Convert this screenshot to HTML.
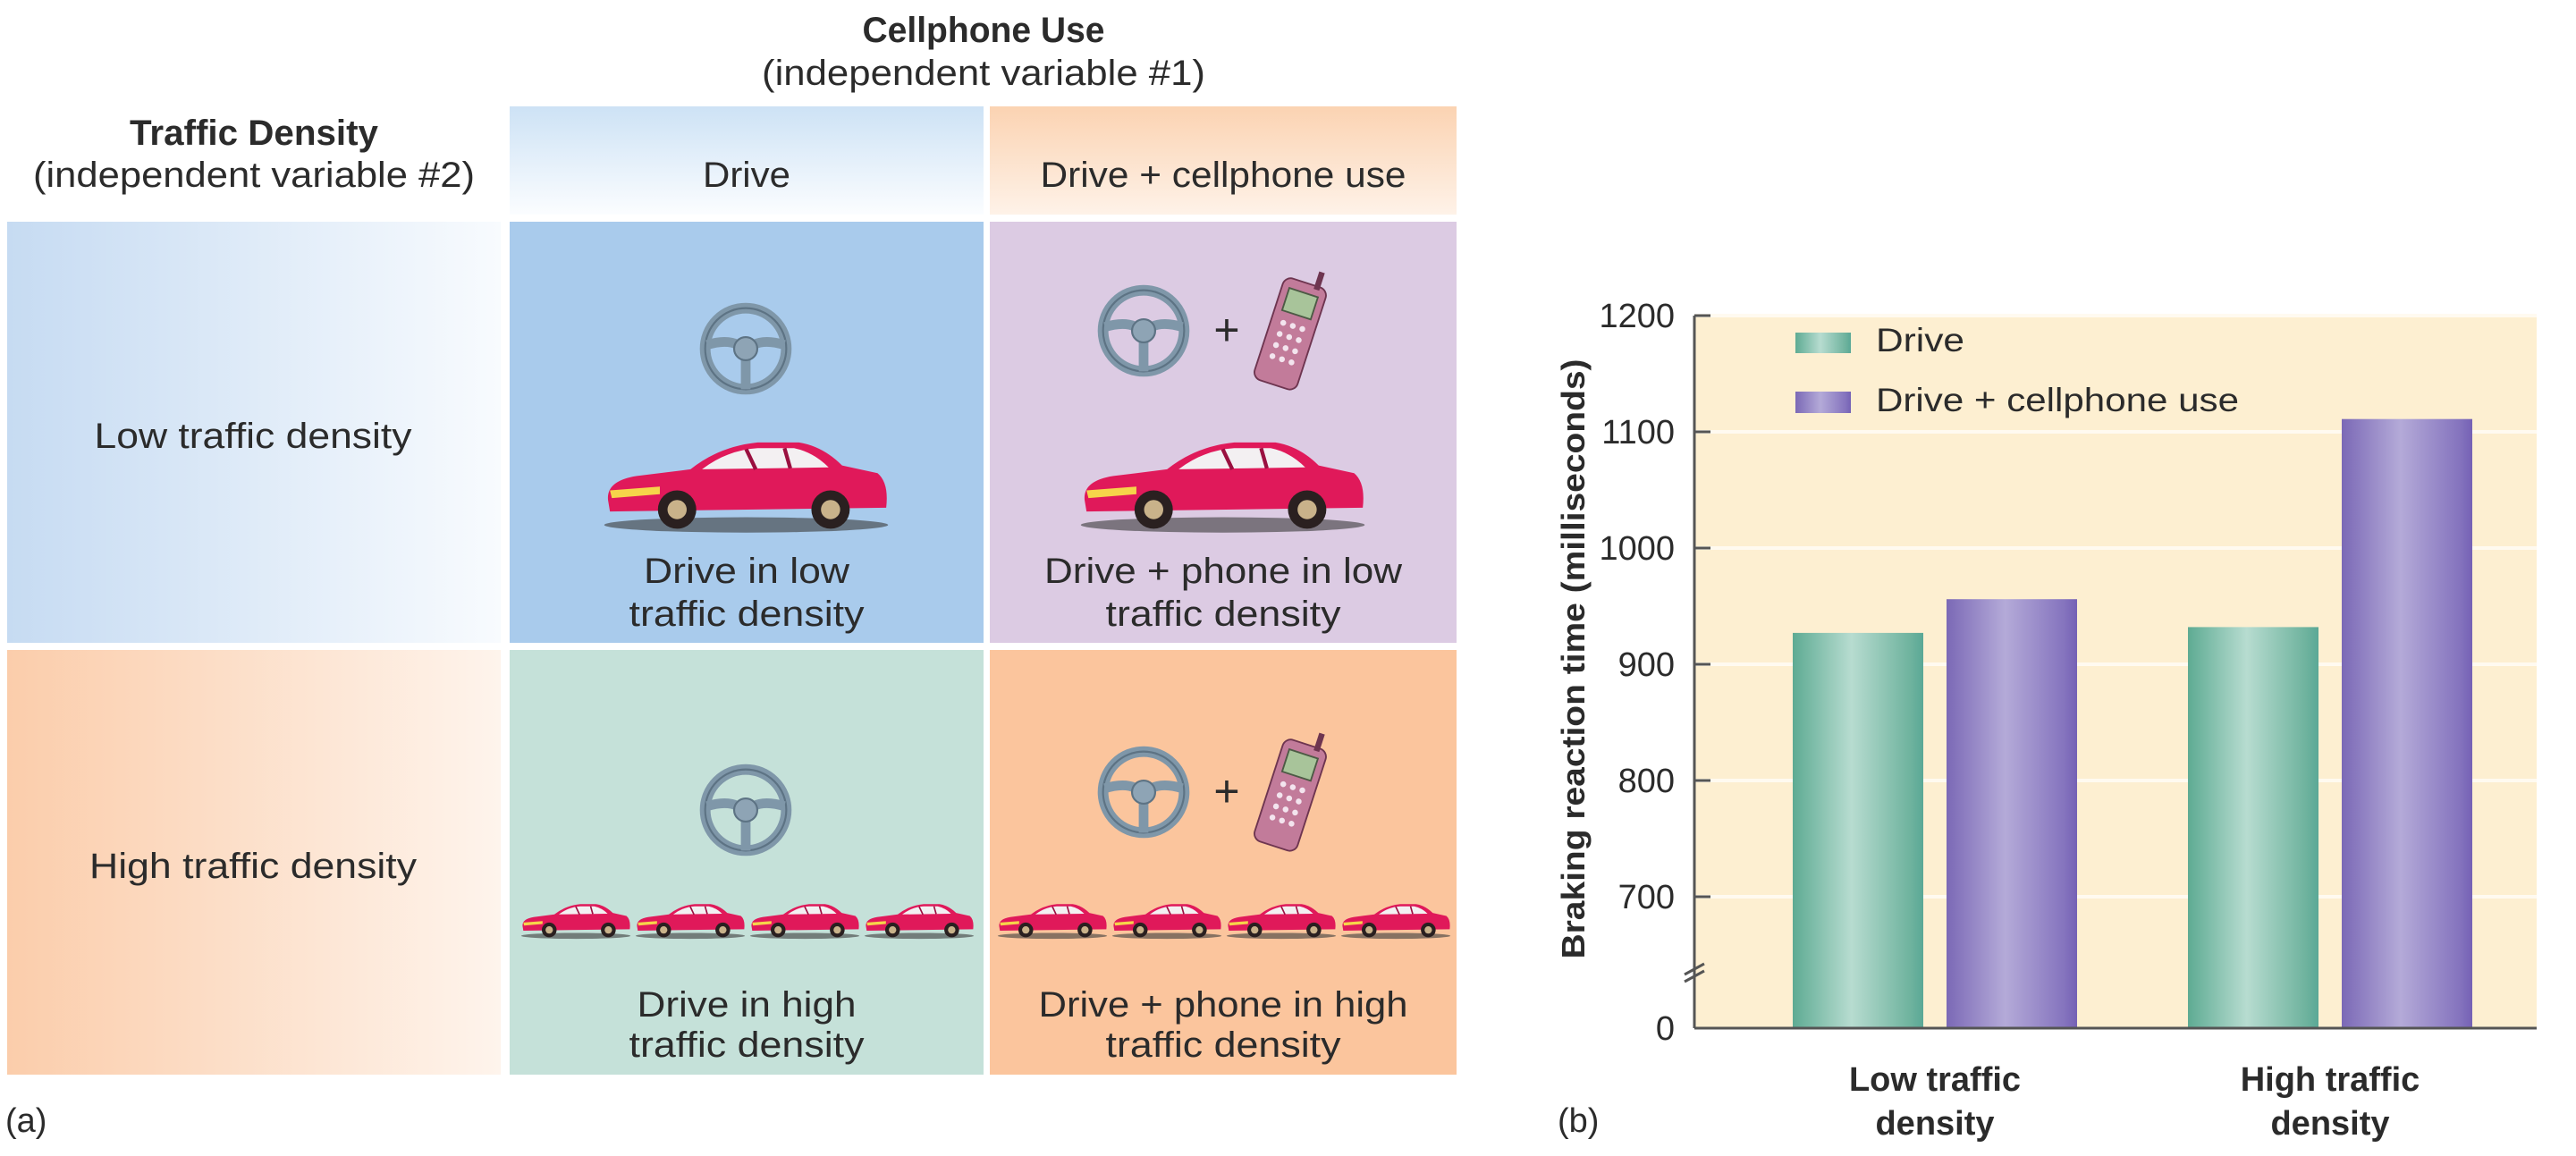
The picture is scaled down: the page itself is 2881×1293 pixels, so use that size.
<!DOCTYPE html>
<html><head><meta charset="utf-8"><style>
html,body{margin:0;padding:0;background:#fff;}
svg{display:block;font-family:"Liberation Sans",sans-serif;}
</style></head><body>
<svg id="root" width="2881" height="1293" viewBox="0 0 2881 1293" xmlns="http://www.w3.org/2000/svg">
<defs>
<linearGradient id="hdrBlue" x1="0" y1="0" x2="0" y2="1"><stop offset="0" stop-color="#cde2f5"/><stop offset="1" stop-color="#fbfdff"/></linearGradient>
<linearGradient id="hdrPeach" x1="0" y1="0" x2="0" y2="1"><stop offset="0" stop-color="#fbd3b2"/><stop offset="1" stop-color="#fef2e8"/></linearGradient>
<linearGradient id="rowBlue" x1="0" y1="0" x2="1" y2="0"><stop offset="0" stop-color="#c6dbf2"/><stop offset="1" stop-color="#f8fbfe"/></linearGradient>
<linearGradient id="rowPeach" x1="0" y1="0" x2="1" y2="0"><stop offset="0" stop-color="#fbcdab"/><stop offset="1" stop-color="#fef4ec"/></linearGradient>
<linearGradient id="gGreen" x1="0" y1="0" x2="1" y2="0"><stop offset="0" stop-color="#5eab93"/><stop offset="0.45" stop-color="#b7dcd0"/><stop offset="0.9" stop-color="#6fb39e"/><stop offset="1" stop-color="#5aa896"/></linearGradient>
<linearGradient id="gPurple" x1="0" y1="0" x2="1" y2="0"><stop offset="0" stop-color="#7b69b6"/><stop offset="0.45" stop-color="#b4aad8"/><stop offset="0.9" stop-color="#8574be"/><stop offset="1" stop-color="#7561b5"/></linearGradient>
<symbol id="car" viewBox="0 0 300 110">
<ellipse cx="150" cy="98" rx="148" ry="8" fill="#3a3a3a" opacity="0.6"/>
<path d="M6 72 Q4 52 36 47 L92 40 Q122 16 162 12 L205 12 Q230 16 250 36 L287 44 Q299 54 296 80 L8 84 Z" fill="#e0195a"/>
<path d="M104 40 Q130 20 162 18 L200 18 Q220 22 236 38 Z" fill="#f3f0f2"/>
<path d="M150 19 L160 40 M190 18 L196 39" stroke="#9a1040" stroke-width="4"/>
<path d="M8 62 L60 58 L60 66 L10 70 Z" fill="#f6d44a"/>
<circle cx="78" cy="82" r="20" fill="#2a2020"/><circle cx="78" cy="82" r="10" fill="#c9b28a"/>
<circle cx="238" cy="82" r="20" fill="#2a2020"/><circle cx="238" cy="82" r="10" fill="#c9b28a"/>
</symbol>
<symbol id="wheel" viewBox="0 0 100 100">
<circle cx="50" cy="50" r="42" fill="none" stroke="#7f97a9" stroke-width="11"/>
<circle cx="50" cy="50" r="42" fill="none" stroke="#5d7384" stroke-width="2"/>
<path d="M10 46 Q30 40 42 46 M90 46 Q70 40 58 46 M50 58 L50 92" stroke="#7f97a9" stroke-width="10" fill="none"/>
<circle cx="50" cy="50" r="12" fill="#8ea4b5" stroke="#5d7384" stroke-width="2"/>
</symbol>
<symbol id="phone" viewBox="0 0 60 150">
<rect x="3" y="18" width="54" height="128" rx="10" fill="#c27b9a" stroke="#6e3550" stroke-width="2"/>
<rect x="40" y="0" width="7" height="22" fill="#6e3550"/>
<rect x="12" y="30" width="36" height="28" fill="#a8c49a" stroke="#4d5a45" stroke-width="2"/>
<g fill="#f3e4ee"><circle cx="18" cy="72" r="3.5"/><circle cx="30" cy="72" r="3.5"/><circle cx="42" cy="72" r="3.5"/>
<circle cx="18" cy="86" r="3.5"/><circle cx="30" cy="86" r="3.5"/><circle cx="42" cy="86" r="3.5"/>
<circle cx="18" cy="100" r="3.5"/><circle cx="30" cy="100" r="3.5"/><circle cx="42" cy="100" r="3.5"/>
<circle cx="18" cy="114" r="3.5"/><circle cx="30" cy="114" r="3.5"/><circle cx="42" cy="114" r="3.5"/></g>
</symbol>
</defs>

<!-- Panel (a) -->
<g fill="#2b2b2b">
<text x="1100" y="47" font-size="40" font-weight="bold" text-anchor="middle" textLength="271" lengthAdjust="spacingAndGlyphs">Cellphone Use</text>
<text x="1100" y="95" font-size="40" text-anchor="middle" textLength="496" lengthAdjust="spacingAndGlyphs">(independent variable #1)</text>
<text x="284" y="162" font-size="40" font-weight="bold" text-anchor="middle" textLength="278" lengthAdjust="spacingAndGlyphs">Traffic Density</text>
<text x="284" y="209" font-size="40" text-anchor="middle" textLength="494" lengthAdjust="spacingAndGlyphs">(independent variable #2)</text>

<rect x="570" y="119" width="530" height="121" fill="url(#hdrBlue)"/>
<rect x="1107" y="119" width="522" height="121" fill="url(#hdrPeach)"/>
<text x="835" y="209" font-size="40" text-anchor="middle" textLength="98" lengthAdjust="spacingAndGlyphs">Drive</text>
<text x="1368" y="209" font-size="40" text-anchor="middle" textLength="409" lengthAdjust="spacingAndGlyphs">Drive + cellphone use</text>

<rect x="8" y="248" width="552" height="471" fill="url(#rowBlue)"/>
<rect x="8" y="727" width="552" height="475" fill="url(#rowPeach)"/>
<text x="283" y="501" font-size="40" text-anchor="middle" textLength="355" lengthAdjust="spacingAndGlyphs">Low traffic density</text>
<text x="283" y="982" font-size="40" text-anchor="middle" textLength="366" lengthAdjust="spacingAndGlyphs">High traffic density</text>

<rect x="570" y="248" width="530" height="471" fill="#a9cbec"/>
<rect x="1107" y="248" width="522" height="471" fill="#dccbe3"/>
<rect x="570" y="727" width="530" height="475" fill="#c5e1d9"/>
<rect x="1107" y="727" width="522" height="475" fill="#fbc59d"/>

<use href="#wheel" x="780" y="336" width="108" height="108"/>
<use href="#car" x="672" y="482" width="325" height="118"/>
<text x="835" y="652" font-size="40" text-anchor="middle" textLength="230" lengthAdjust="spacingAndGlyphs">Drive in low</text>
<text x="835" y="700" font-size="40" text-anchor="middle" textLength="263" lengthAdjust="spacingAndGlyphs">traffic density</text>

<use href="#wheel" x="1225" y="316" width="108" height="108"/>
<text x="1372" y="386" font-size="50" text-anchor="middle">+</text>
<g transform="translate(1440 292) rotate(18)"><use href="#phone" width="56" height="140"/></g>
<use href="#car" x="1205" y="482" width="325" height="118"/>
<text x="1368" y="652" font-size="40" text-anchor="middle" textLength="400" lengthAdjust="spacingAndGlyphs">Drive + phone in low</text>
<text x="1368" y="700" font-size="40" text-anchor="middle" textLength="263" lengthAdjust="spacingAndGlyphs">traffic density</text>

<use href="#wheel" x="780" y="852" width="108" height="108"/>
<g>
<use href="#car" x="582" y="1005" width="124" height="48"/><use href="#car" x="710" y="1005" width="124" height="48"/>
<use href="#car" x="838" y="1005" width="124" height="48"/><use href="#car" x="966" y="1005" width="124" height="48"/></g>
<text x="835" y="1137" font-size="40" text-anchor="middle" textLength="245" lengthAdjust="spacingAndGlyphs">Drive in high</text>
<text x="835" y="1182" font-size="40" text-anchor="middle" textLength="263" lengthAdjust="spacingAndGlyphs">traffic density</text>

<use href="#wheel" x="1225" y="832" width="108" height="108"/>
<text x="1372" y="902" font-size="50" text-anchor="middle">+</text>
<g transform="translate(1440 808) rotate(18)"><use href="#phone" width="56" height="140"/></g>
<g>
<use href="#car" x="1115" y="1005" width="124" height="48"/><use href="#car" x="1243" y="1005" width="124" height="48"/>
<use href="#car" x="1371" y="1005" width="124" height="48"/><use href="#car" x="1499" y="1005" width="124" height="48"/></g>
<text x="1368" y="1137" font-size="40" text-anchor="middle" textLength="413" lengthAdjust="spacingAndGlyphs">Drive + phone in high</text>
<text x="1368" y="1182" font-size="40" text-anchor="middle" textLength="263" lengthAdjust="spacingAndGlyphs">traffic density</text>

<text x="6" y="1266" font-size="38">(a)</text>
</g>

<!-- Panel (b) -->
<g id="chart">
<rect x="1895" y="353" width="942" height="797" fill="#fdefd1"/>
<g id="grid"></g>
<g id="bars"></g>
<line x1="1895" y1="353" x2="1895" y2="1150" stroke="#555" stroke-width="3"/>
<line x1="1895" y1="1150" x2="2837" y2="1150" stroke="#555" stroke-width="3"/>
<path d="M1884 1090 L1906 1078 M1884 1098 L1906 1086" stroke="#555" stroke-width="3" fill="none"/>
<g id="ticks" fill="#2b2b2b"></g>
<text transform="translate(1772 737) rotate(-90)" font-size="36" font-weight="bold" fill="#2b2b2b" text-anchor="middle" textLength="671" lengthAdjust="spacingAndGlyphs">Braking reaction time (milliseconds)</text>
<g>
<rect x="2008" y="372" width="62" height="23" fill="url(#gGreen)"/>
<text x="2098" y="393" font-size="37" fill="#2b2b2b" textLength="99" lengthAdjust="spacingAndGlyphs">Drive</text>
<rect x="2008" y="438" width="62" height="24" fill="url(#gPurple)"/>
<text x="2098" y="460" font-size="37" fill="#2b2b2b" textLength="406" lengthAdjust="spacingAndGlyphs">Drive + cellphone use</text>
</g>
<g id="xlabels" fill="#2b2b2b" font-weight="bold" font-size="38"></g>
<text x="1742" y="1266" font-size="38" fill="#2b2b2b">(b)</text>
</g>
</svg>
<script>
const categories = ["Low traffic", "High traffic"];
const categoryLine2 = ["density", "density"];
const driveValues = [927, 932];
const cellphoneValues = [956, 1111];
const tickValues = [700, 800, 900, 1000, 1100];
const tickLabels = ["700", "800", "900", "1000", "1100", "1200"];
const allTicks = [700, 800, 900, 1000, 1100, 1200];

const NS = "http://www.w3.org/2000/svg";
const AXIS_X = 1895;
// y scale with axis break: 700..1200 mapped to 1003..353, 0 at baseline 1150
function yScale(v) {
  if (v <= 0) return 1150;
  if (v < 700) return 1150 - (v / 700) * 147;
  return 1003 - (v - 700) * 1.3;
}
function xCenter(i) { return 2164 + i * 442; }
const barW = 146, barOff = 86;

const grid = document.getElementById('grid');
allTicks.forEach(function (t) {
  const l = document.createElementNS(NS, 'line');
  l.setAttribute('x1', AXIS_X); l.setAttribute('x2', 2837);
  l.setAttribute('y1', yScale(t)); l.setAttribute('y2', yScale(t));
  l.setAttribute('stroke', '#fffaf0'); l.setAttribute('stroke-width', 4);
  
  
  grid.appendChild(l);
});

const bars = document.getElementById('bars');
function addBar(i, v, off, fill, name) {
  const r = document.createElementNS(NS, 'rect');
  const y = yScale(v);
  r.setAttribute('x', xCenter(i) + off - barW / 2);
  r.setAttribute('y', y);
  r.setAttribute('width', barW);
  r.setAttribute('height', 1150 - y);
  r.setAttribute('fill', fill);
  
  
  bars.appendChild(r);
}
categories.forEach(function (c, i) {
  addBar(i, driveValues[i], -barOff, 'url(#gGreen)', 'bar-drive-' + i);
  addBar(i, cellphoneValues[i], barOff, 'url(#gPurple)', 'bar-cellphone-' + i);
});

const ticks = document.getElementById('ticks');
function addTick(v, label) {
  const y = yScale(v);
  const l = document.createElementNS(NS, 'line');
  l.setAttribute('x1', AXIS_X); l.setAttribute('x2', AXIS_X + 18);
  l.setAttribute('y1', y); l.setAttribute('y2', y);
  l.setAttribute('stroke', '#555'); l.setAttribute('stroke-width', 3);
  
  
  ticks.appendChild(l);
  const t = document.createElementNS(NS, 'text');
  t.setAttribute('x', AXIS_X - 22); t.setAttribute('y', y + 13);
  t.setAttribute('font-size', 38); t.setAttribute('text-anchor', 'end');
  t.textContent = label;
  
  
  ticks.appendChild(t);
}
allTicks.forEach(function (v, i) { addTick(v, tickLabels[i]); });
addTick(0, "0");

const xl = document.getElementById('xlabels');
categories.forEach(function (c, i) {
  const t1 = document.createElementNS(NS, 'text');
  t1.setAttribute('x', xCenter(i)); t1.setAttribute('y', 1220);
  t1.setAttribute('text-anchor', 'middle');
  t1.textContent = c;
  
  
  xl.appendChild(t1);
  const t2 = document.createElementNS(NS, 'text');
  t2.setAttribute('x', xCenter(i)); t2.setAttribute('y', 1269);
  t2.setAttribute('text-anchor', 'middle');
  t2.textContent = categoryLine2[i];
  
  
  xl.appendChild(t2);
});
</script>
</body></html>
